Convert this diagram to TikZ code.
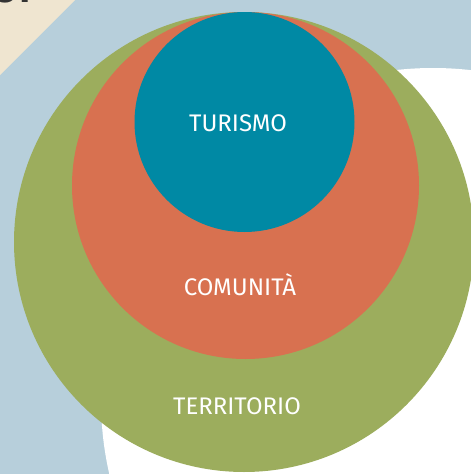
\documentclass[tikz,border=0pt]{standalone}
\usepackage{fontspec}
\setmainfont{Fira Sans}
\definecolor{bgblue}{HTML}{B7CFDB}
\definecolor{beige}{HTML}{EFE5D0}
\definecolor{terrgreen}{HTML}{9CAD5D}
\definecolor{comorange}{HTML}{D87150}
\definecolor{turteal}{HTML}{0089A4}
\definecolor{darktext}{HTML}{333333}
\tikzset{
  label/.style={text=white, inner sep=0pt, font=\fontsize{24}{28}\selectfont},
}
\begin{document}
\begin{tikzpicture}[x=1pt,y=-1pt]
\useasboundingbox (0,0) rectangle (471,474);
\clip (0,0) rectangle (471,474);
\fill[bgblue] (0,0) rectangle (471,474);
\fill[beige] (0,0) -- (75,0) -- (0,75) -- cycle;
\node[anchor=base west, inner sep=0pt, text=darktext, font=\fontsize{36}{40}\selectfont\bfseries] (title) at (-5,2) {ST};
\fill[white] (433,400) circle (332pt);
\fill[terrgreen] (244,242) circle (230pt);
\fill[comorange] (245.5,185.5) circle (173.5pt);
\fill[turteal] (244.5,122) circle (110pt);
\node[label] (turismo) at (238,123) {TURISMO};
\node[label] (comunita) at (240,285) {COMUNITÀ};
\node[label] (territorio) at (237,406) {TERRITORIO};
\end{tikzpicture}
\end{document}
